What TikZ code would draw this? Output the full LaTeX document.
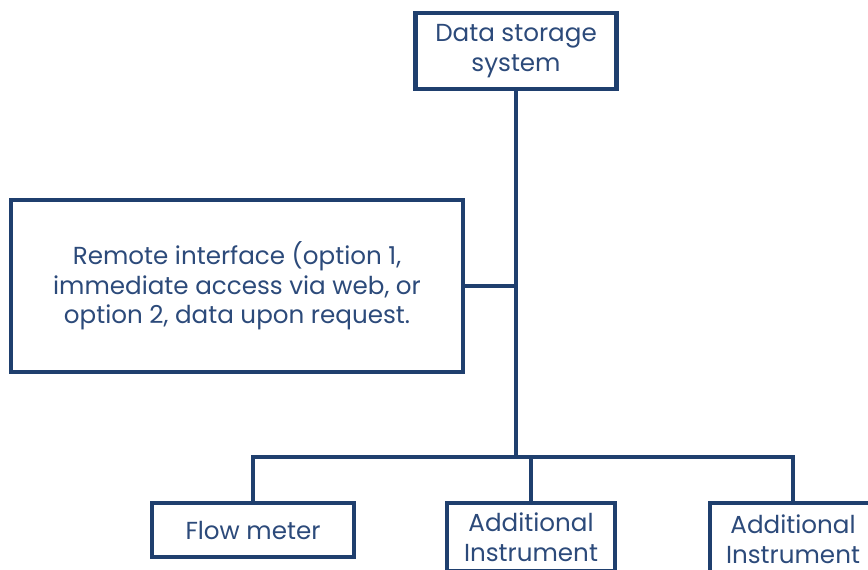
\documentclass[tikz,border=0pt]{standalone}
\usepackage{fontspec}
\setmainfont{Poppins}
\definecolor{navy}{RGB}{31,63,110}
\definecolor{navytext}{RGB}{44,74,122}
\tikzset{
  box/.style={draw=navy, line width=1.2pt, text=navytext, align=center,
    inner sep=0pt, font=\fontsize{7}{8.4}\selectfont},
  wire/.style={draw=navy, line width=1.2pt}
}
\begin{document}
\begin{tikzpicture}[x=0.01cm,y=-0.01cm]
\useasboundingbox (0,0) rectangle (868,569);
\clip (0,0) rectangle (868,569);
\node[box, minimum width=2.01cm, minimum height=0.76cm] (store) at (516,51) {Data storage\\system};
\node[box, minimum width=4.52cm, minimum height=1.72cm] (remote) at (237,286)
  {Remote interface (option 1,\\immediate access via web, or\\option 2, data upon request.};
\node[box, minimum width=2.02cm, minimum height=0.54cm] (flow) at (253,530) {Flow meter};
\node[box, minimum width=1.68cm, minimum height=0.68cm] (add1) at (531,537) {Additional\\Instrument};
\node[box, minimum width=1.66cm, minimum height=0.72cm] (add2) at (793,539) {Additional\\Instrument};
\coordinate (bus) at (516,457);
\draw[wire] (store.south) -- (bus);
\draw[wire] (remote.east) -- (remote.east -| bus);
\draw[wire] (flow.north) |- (bus) -| (add2.north);
\draw[wire] (add1.north) -- (add1.north |- bus);
\end{tikzpicture}
\end{document}
